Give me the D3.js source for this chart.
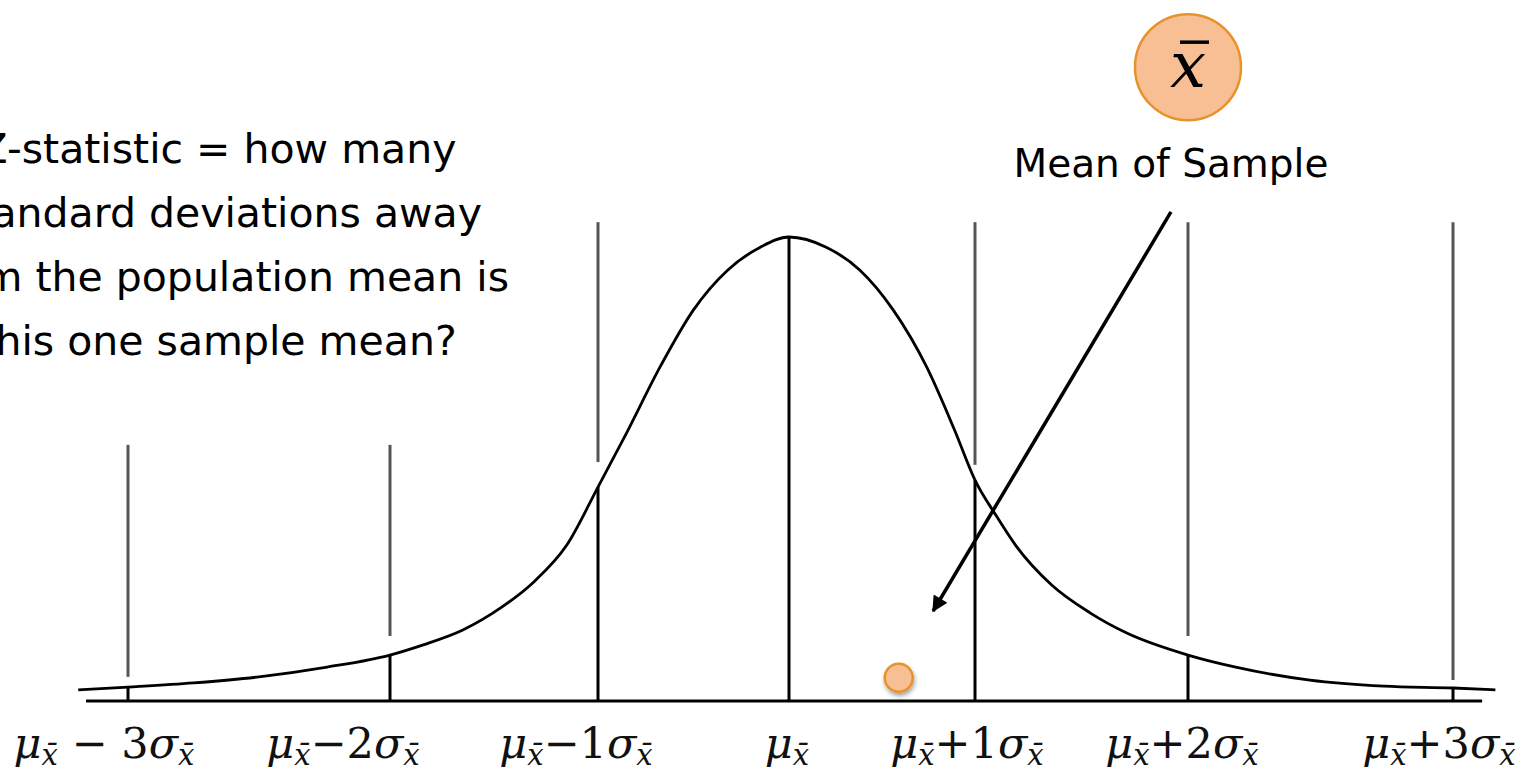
<!DOCTYPE html>
<html>
<head>
<meta charset="utf-8">
<script src="https://cdnjs.cloudflare.com/ajax/libs/d3/7.8.5/d3.min.js"></script>
<style>
  body { margin: 0; background: #fff; }
  svg { display: block; }
</style>
</head>
<body>
<div id="canvas"></div>
<script>
"use strict"
let svgWidth = 1530;
let svgHeight = 769;

// sigma steps shown on the axis and the tick text pieces
let sigmaSteps = [-3, -2, -1, 0, 1, 2, 3];
let tickOps = [" \u2212 ", "\u2212", "\u2212", "", "+", "+", "+"];
let tickMult = ["3", "2", "1", "", "1", "2", "3"];

// hand drawn bell curve (z in sigma, h relative to peak)
let curveZ = [-3.19, -3.0, -2.75, -2.5, -2.24, -2.0, -1.84, -1.65, -1.47, -1.31, -1.15, -1.0,
    -0.85, -0.675, -0.5, -0.32, -0.15, 0, 0.2, 0.38, 0.56, 0.74, 0.89, 1.0,
    1.10, 1.19, 1.36, 1.54, 1.71, 2.0, 2.18, 2.46, 2.74, 3.0, 3.16];
let curveH = [0.024, 0.030, 0.039, 0.052, 0.073, 0.099, 0.121, 0.153, 0.200, 0.256, 0.336, 0.461,
    0.578, 0.720, 0.843, 0.929, 0.978, 1.0, 0.978, 0.929, 0.843, 0.720, 0.584, 0.476,
    0.399, 0.336, 0.250, 0.190, 0.147, 0.099, 0.073, 0.045, 0.032, 0.028, 0.024];

// black drop lines from the curve down to the axis
let dropH = [0.030, 0.099, 0.461, 1.0, 0.476, 0.099, 0.028];

// grey guide lines above the curve (none at the mean)
let guideTopH = [0.552, 0.552, 1.032, null, 1.032, 1.032, 1.032];
let guideBottomH = [0.052, 0.140, 0.515, null, 0.509, 0.140, 0.045];

// axis extent
let axisZ = [-3.16, 3.11];

// the one sample mean and its annotation
let sampleZ = 0.59;
let sampleH = 0.05;
let arrowZ = [1.92, 0.775];
let arrowH = [1.054, 0.194];
let badgeZ = 2.0;
let badgeH = 1.366;
let badgeText = "Mean of Sample";
let badgeTextZ = 1.92;
let badgeTextH = 1.13;

let noteLines = ["Z-statistic = how many", "standard deviations away",
    "from the population mean is", "this one sample mean?"];

let svg = d3.select("#canvas")
    .append("svg")
    .attr("width", svgWidth)
    .attr("height", svgHeight);

// x spacing in the drawing widens towards the tails, so use a piecewise scale
let xScale = d3.scaleLinear()
    .domain(sigmaSteps)
    .range([128, 390, 598, 789, 975, 1188, 1453]);
let yScale = d3.scaleLinear()
    .domain([0, 1])
    .range([701, 237]);

let defs = svg.append("defs");
defs.append("marker")
    .attr("id", "arrowHead")
    .attr("viewBox", "0 0 10 10")
    .attr("refX", 9)
    .attr("refY", 5)
    .attr("markerUnits", "userSpaceOnUse")
    .attr("markerWidth", 22)
    .attr("markerHeight", 16)
    .attr("orient", "auto")
    .append("path")
    .attr("d", "M0,0 L10,5 L0,10 Z")
    .attr("fill", "black");

let shadow = defs.append("filter")
    .attr("id", "dotShadow")
    .attr("x", "-50%").attr("y", "-50%")
    .attr("width", "200%").attr("height", "200%");
shadow.append("feDropShadow")
    .attr("dx", 1)
    .attr("dy", 3)
    .attr("stdDeviation", 2)
    .attr("flood-color", "#000")
    .attr("flood-opacity", 0.35);

// horizontal axis
svg.append("line")
    .attr("x1", xScale(axisZ[0]))
    .attr("x2", xScale(axisZ[1]))
    .attr("y1", yScale(0))
    .attr("y2", yScale(0))
    .attr("stroke", "black")
    .attr("stroke-width", 3);

// grey guides
sigmaSteps.forEach(function (s, i) {
    if (guideTopH[i] == null) return;
    svg.append("line")
        .attr("x1", xScale(s))
        .attr("x2", xScale(s))
        .attr("y1", yScale(guideTopH[i]))
        .attr("y2", yScale(guideBottomH[i]))
        .attr("stroke", "#555")
        .attr("stroke-width", 3);
});

// drop lines
sigmaSteps.forEach(function (s, i) {
    svg.append("line")
        .attr("x1", xScale(s))
        .attr("x2", xScale(s))
        .attr("y1", yScale(dropH[i]))
        .attr("y2", yScale(0))
        .attr("stroke", "black")
        .attr("stroke-width", 3);
});

// bell curve
let curvePoints = curveZ.map(function (z, i) { return [z, curveH[i]]; });
let line = d3.line()
    .x(function (d) { return xScale(d[0]); })
    .y(function (d) { return yScale(d[1]); })
    .curve(d3.curveMonotoneX);
svg.append("path")
    .datum(curvePoints)
    .attr("d", line)
    .attr("fill", "none")
    .attr("stroke", "black")
    .attr("stroke-width", 2.8);

// tick labels, built from tspans so the subscripts sit low
let labelShift = [-24, -47, -22, -2, -8, -6, -14];
sigmaSteps.forEach(function (s, i) {
    let t = svg.append("text")
        .attr("x", xScale(s) + labelShift[i])
        .attr("y", 758)
        .attr("text-anchor", "middle")
        .attr("font-family", "DejaVu Serif")
        .attr("font-size", 43)
        .attr("fill", "#111");
    t.append("tspan").attr("font-style", "italic").text("\u03bc");
    t.append("tspan").attr("font-style", "italic").attr("font-size", 29).attr("dy", 7).text("x\u0304");
    if (tickOps[i] != "") {
        t.append("tspan").attr("dy", -7).text(tickOps[i] + tickMult[i]);
        t.append("tspan").attr("font-style", "italic").text("\u03c3");
        t.append("tspan").attr("font-style", "italic").attr("font-size", 29).attr("dy", 7).text("x\u0304");
    }
});

// sample mean dot
svg.append("circle")
    .attr("cx", xScale(sampleZ))
    .attr("cy", yScale(sampleH))
    .attr("r", 14)
    .attr("fill", "#f8bf95")
    .attr("stroke", "#e8922a")
    .attr("stroke-width", 2.5)
    .attr("filter", "url(#dotShadow)");

// arrow from the label down to the sample
svg.append("line")
    .attr("x1", xScale(arrowZ[0]))
    .attr("y1", yScale(arrowH[0]))
    .attr("x2", xScale(arrowZ[1]))
    .attr("y2", yScale(arrowH[1]))
    .attr("stroke", "black")
    .attr("stroke-width", 3.5)
    .attr("marker-end", "url(#arrowHead)");

// x-bar badge
let bx = xScale(badgeZ);
let by = yScale(badgeH);
svg.append("circle")
    .attr("cx", bx)
    .attr("cy", by)
    .attr("r", 53)
    .attr("fill", "#f8bf95")
    .attr("stroke", "#e8922a")
    .attr("stroke-width", 2.5);
svg.append("text")
    .attr("x", bx)
    .attr("y", by + 20)
    .attr("text-anchor", "middle")
    .attr("font-family", "DejaVu Serif")
    .attr("font-style", "italic")
    .attr("font-size", 64)
    .attr("fill", "black")
    .text("x");
// the bar over the x
svg.append("line")
    .attr("x1", bx - 8)
    .attr("x2", bx + 21)
    .attr("y1", by - 25)
    .attr("y2", by - 25)
    .attr("stroke", "black")
    .attr("stroke-width", 3.5);

svg.append("text")
    .attr("x", xScale(badgeTextZ))
    .attr("y", yScale(badgeTextH))
    .attr("text-anchor", "middle")
    .attr("font-family", "DejaVu Sans")
    .attr("font-size", 39)
    .attr("fill", "black")
    .text(badgeText);

// question text on the left, partly cut by the page edge
noteLines.forEach(function (s, i) {
    svg.append("text")
        .attr("x", 218)
        .attr("y", 163 + i * 64)
        .attr("text-anchor", "middle")
        .attr("font-family", "DejaVu Sans")
        .attr("font-size", 41)
        .attr("fill", "black")
        .text(s);
});
</script>
</body>
</html>
